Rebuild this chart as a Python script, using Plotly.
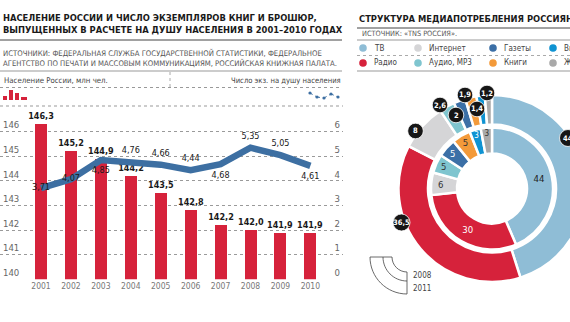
import plotly.graph_objects as go

# ---------------- data ----------------
years = [2001, 2002, 2003, 2004, 2005, 2006, 2007, 2008, 2009, 2010]
population = [146.3, 145.2, 144.9, 144.2, 143.5, 142.8, 142.2, 142.0, 141.9, 141.9]
books_per_capita = [3.71, 4.07, 4.85, 4.76, 4.66, 4.44, 4.68, 5.35, 5.05, 4.61]
book_label_pos = ["middle center", "middle center", "bottom center", "top center", "top center",
                  "top center", "bottom center", "top center", "top center", "bottom center"]

media = ["ТВ", "Радио", "Интернет", "Аудио, MP3", "Газеты", "Книги", "Видео", "Журналы"]
share_2008 = [44, 30, 6, 5, 5, 5, 3, 3]
share_2011 = [44, 36.5, 8, 2.6, 2, 1.9, 1.4, 1.2]
legend_rows = [["ТВ", "Интернет", "Газеты", "Видео"],
               ["Радио", "Аудио, MP3", "Книги", "Журналы"]]

# ---------------- style ----------------
W, H = 600, 322
FONT = "Liberation Sans Narrow, DejaVu Sans Condensed, Arial Narrow, sans-serif"
RED = "#d6223b"
LINE_BLUE = "#3d6fa2"
colors = {"ТВ": "#8fbdd6", "Радио": "#d6223b", "Интернет": "#d5d5d7", "Аудио, MP3": "#7fc5cf",
          "Газеты": "#3b6fa6", "Книги": "#f39a3a", "Видео": "#0f93d2", "Журналы": "#a9a9a9"}
inner_text_col = {"ТВ": "#222", "Радио": "white", "Интернет": "#333", "Аудио, MP3": "#333",
                  "Газеты": "white", "Книги": "#333", "Видео": "white", "Журналы": "#333"}


def fx(x):
    return x / W


def fy(y):
    return 1 - y / H


def P(x, y):
    return f"{fx(x)},{fy(y)}"


def fmt(v, d):
    return f"{v:.{d}f}".replace(".", ",")


fig = go.Figure()

# bars: population
fig.add_trace(go.Bar(
    x=years, y=population, width=0.4, marker=dict(color=RED, line_width=0),
    text=[fmt(v, 1) for v in population], textposition="outside", cliponaxis=False,
    constraintext="none",
    textfont=dict(family=FONT, size=9, color="#1a1a1a", weight="bold"), showlegend=False,
    yaxis="y", xaxis="x"))

# line: books per capita
fig.add_trace(go.Scatter(
    x=years, y=books_per_capita, mode="lines+markers+text", yaxis="y2", xaxis="x",
    line=dict(color=LINE_BLUE, width=6.5, shape="linear"),
    marker=dict(size=9, color="rgba(0,0,0,0)"),
    text=[fmt(v, 2) for v in books_per_capita], textposition=book_label_pos,
    textfont=dict(family=FONT, size=9, color="#1a1a1a"), cliponaxis=False, showlegend=False))

# donut: outer 2011, inner 2008
cx, cy = 492, 188.5
R_out, r_out = 93.5, 64
R_in, r_in = 61, 35
fig.add_trace(go.Pie(
    labels=media, values=share_2011, sort=False, direction="clockwise", rotation=0,
    hole=r_out / R_out, textinfo="none", hoverinfo="skip", showlegend=False,
    marker=dict(colors=[colors[m] for m in media], line=dict(color="white", width=2.5)),
    domain=dict(x=[fx(cx - R_out), fx(cx + R_out)], y=[fy(cy + R_out), fy(cy - R_out)])))
fig.add_trace(go.Pie(
    labels=media, values=share_2008, sort=False, direction="clockwise", rotation=0,
    hole=r_in / R_in, textinfo="text", text=[fmt(v, 0) for v in share_2008],
    textposition="inside", insidetextorientation="horizontal",
    textfont=dict(family=FONT, size=9.5, color=[inner_text_col[m] for m in media]),
    hoverinfo="skip", showlegend=False,
    marker=dict(colors=[colors[m] for m in media], line=dict(color="white", width=2.5)),
    domain=dict(x=[fx(cx - R_in), fx(cx + R_in)], y=[fy(cy + R_in), fy(cy - R_in)])))

shapes = []
ann = []

# ---- left header ----
ann.append(dict(x=fx(1), y=fy(23.5), xanchor="left", yanchor="middle", align="left",
                text="<b>НАСЕЛЕНИЕ РОССИИ И ЧИСЛО ЭКЗЕМПЛЯРОВ КНИГ И БРОШЮР,<br>"
                     "ВЫПУЩЕННЫХ В РАСЧЕТЕ НА ДУШУ НАСЕЛЕНИЯ В 2001–2010 ГОДАХ</b>",
                font=dict(family=FONT, size=9.3, color="#1a1a1a")))
shapes.append(dict(type="line", x0=fx(0), x1=fx(342), y0=fy(40), y1=fy(40),
                   line=dict(color="#444", width=1)))
ann.append(dict(x=fx(1), y=fy(57.5), xanchor="left", yanchor="middle", align="left",
                text="ИСТОЧНИКИ: ФЕДЕРАЛЬНАЯ СЛУЖБА ГОСУДАРСТВЕННОЙ СТАТИСТИКИ, ФЕДЕРАЛЬНОЕ<br>"
                     "АГЕНТСТВО ПО ПЕЧАТИ И МАССОВЫМ КОММУНИКАЦИЯМ, РОССИЙСКАЯ КНИЖНАЯ ПАЛАТА.",
                font=dict(family=FONT, size=7.7, color="#555")))
shapes.append(dict(type="line", x0=fx(0), x1=fx(342), y0=fy(71), y1=fy(71),
                   line=dict(color="#999", width=1)))
ann.append(dict(x=fx(2), y=fy(80), xanchor="left", yanchor="middle",
                text="Население России, млн чел.", font=dict(family=FONT, size=7.8, color="#444")))
ann.append(dict(x=fx(343), y=fy(80), xanchor="right", yanchor="middle",
                text="Число экз. на душу населения", font=dict(family=FONT, size=7.6, color="#444")))
shapes.append(dict(type="line", x0=fx(170), x1=fx(170), y0=fy(72), y1=fy(87),
                   line=dict(color="#aaa", width=1, dash="dot")))
shapes.append(dict(type="line", x0=fx(0), x1=fx(342), y0=fy(87.5), y1=fy(87.5),
                   line=dict(color="#999", width=1, dash="dot")))
shapes.append(dict(type="line", x0=fx(0), x1=fx(343), y0=fy(106), y1=fy(106),
                   line=dict(color="#999", width=1, dash="dot")))
# mini bar icon
for x0, x1, top in [(3, 7, 96), (9, 13, 90), (15, 19, 93), (21, 27, 97)]:
    shapes.append(dict(type="rect", x0=fx(x0), x1=fx(x1), y0=fy(100), y1=fy(top),
                       fillcolor=RED, line_width=0))
# mini line icon
pts = [(310, 93), (317, 97), (324, 98), (331, 94), (338, 97)]
for (xa, ya), (xb, yb) in zip(pts[:-1], pts[1:]):
    shapes.append(dict(type="line", x0=fx(xa), x1=fx(xb), y0=fy(ya), y1=fy(yb),
                       line=dict(color=LINE_BLUE, width=1, dash="dot")))
for xa, ya in pts:
    shapes.append(dict(type="circle", xsizemode="pixel", ysizemode="pixel",
                       xanchor=fx(xa), yanchor=fy(ya), x0=-1.6, x1=1.6, y0=-1.6, y1=1.6,
                       fillcolor=LINE_BLUE, line_width=0))

# ---- right header ----
ann.append(dict(x=fx(357), y=fy(18), xanchor="left", yanchor="middle",
                text="<b>СТРУКТУРА МЕДИАПОТРЕБЛЕНИЯ РОССИЯН</b>",
                font=dict(family=FONT, size=9.3, color="#1a1a1a")))
shapes.append(dict(type="line", x0=fx(357), x1=1, y0=fy(28), y1=fy(28),
                   line=dict(color="#444", width=1)))
ann.append(dict(x=fx(360), y=fy(34), xanchor="left", yanchor="middle",
                text="ИСТОЧНИК: «TNS РОССИЯ».", font=dict(family=FONT, size=7.3, color="#555")))
shapes.append(dict(type="line", x0=fx(357), x1=1, y0=fy(40), y1=fy(40),
                   line=dict(color="#999", width=1)))
shapes.append(dict(type="line", x0=fx(357), x1=1, y0=fy(55.5), y1=fy(55.5),
                   line=dict(color="#aaa", width=1, dash="dot")))
shapes.append(dict(type="line", x0=fx(357), x1=1, y0=fy(71), y1=fy(71),
                   line=dict(color="#999", width=1)))
col_x = [363, 418, 493, 553]
row_y = [48, 63]
for ri, row in enumerate(legend_rows):
    for ci, name in enumerate(row):
        shapes.append(dict(type="circle", xsizemode="pixel", ysizemode="pixel",
                           xanchor=fx(col_x[ci]), yanchor=fy(row_y[ri]),
                           x0=-3.8, x1=3.8, y0=-3.8, y1=3.8,
                           fillcolor=colors[name], line_width=0))
        ann.append(dict(x=fx(col_x[ci] + 9), y=fy(row_y[ri]), xanchor="left", yanchor="middle",
                        text=name, font=dict(family=FONT, size=8, color="#444")))

# ---- donut badges (2011 values) ----
badge_pos = {"ТВ": (568, 138), "Радио": (401.5, 222.5), "Интернет": (415.5, 131),
             "Аудио, MP3": (440, 105), "Газеты": (456, 115), "Книги": (465, 95),
             "Видео": (477, 109), "Журналы": (487, 93)}
for m, v in zip(media, share_2011):
    bx, by = badge_pos[m]
    rad = 8.5 if v >= 10 else 7.8
    shapes.append(dict(type="circle", xsizemode="pixel", ysizemode="pixel",
                       xanchor=fx(bx), yanchor=fy(by), x0=-rad, x1=rad, y0=-rad, y1=rad,
                       fillcolor="#161616", line=dict(color="white", width=0.8), layer="above"))
    ann.append(dict(x=fx(bx), y=fy(by), xanchor="center", yanchor="middle",
                    text=f"<b>{fmt(v, 1) if v % 1 else fmt(v, 0)}</b>",
                    font=dict(family=FONT, size=7.5, color="white")))

# ---- year key: bottom-left quarter of a two-band ring ----
kx, ky = 407, 257          # ring centre (top-right corner of the key)
r1, r2, r3 = 15, 24, 37    # inner, middle, outer radii
k = 0.5523
key_path = (f"M {P(kx - r3, ky)} L {P(kx - r1, ky)} "
            f"C {P(kx - r1, ky + k * r1)} {P(kx - k * r1, ky + r1)} {P(kx, ky + r1)} "
            f"L {P(kx, ky + r3)} "
            f"C {P(kx - k * r3, ky + r3)} {P(kx - r3, ky + k * r3)} {P(kx - r3, ky)} Z")
shapes.append(dict(type="path", path=key_path, line=dict(color="#444", width=0.8),
                   fillcolor="rgba(0,0,0,0)"))
mid_path = (f"M {P(kx - r2, ky)} "
            f"C {P(kx - r2, ky + k * r2)} {P(kx - k * r2, ky + r2)} {P(kx, ky + r2)}")
shapes.append(dict(type="path", path=mid_path, line=dict(color="#444", width=0.8)))
ann.append(dict(x=fx(411), y=fy(275), xanchor="left", yanchor="middle", text="2008",
                font=dict(family=FONT, size=8, color="#444")))
ann.append(dict(x=fx(411), y=fy(288), xanchor="left", yanchor="middle", text="2011",
                font=dict(family=FONT, size=8, color="#444")))

for a in ann:
    a.update(xref="paper", yref="paper", showarrow=False)
for s in shapes:
    s.update(xref="paper", yref="paper")

y_bottom_px, y_top_px, px_per_unit = 279.3, 106, 24.6
span = (y_bottom_px - y_top_px) / px_per_unit
x_left_year = 2001 - 41 / 29.93
x_right_year = 2001 + (343 - 41) / 29.93

fig.update_layout(
    width=W, height=H, margin=dict(l=0, r=0, t=0, b=0),
    paper_bgcolor="white", plot_bgcolor="rgba(0,0,0,0)",
    font=dict(family=FONT, size=10, color="#555"),
    shapes=shapes, annotations=ann, bargap=0,
    xaxis=dict(domain=[0, fx(343)], range=[x_left_year, x_right_year], tickvals=years,
               ticktext=[str(y) for y in years], showgrid=False, zeroline=False, showline=False,
               ticks="", tickfont=dict(family=FONT, size=8.5, color="#777"), fixedrange=True),
    yaxis=dict(domain=[fy(y_bottom_px), fy(y_top_px)], range=[140, 140 + span],
               tickvals=[140, 141, 142, 143, 144, 145, 146], ticklabelposition="inside top",
               showgrid=True, gridcolor="#9a9a9a", griddash="dot", gridwidth=1,
               zeroline=False, showline=False, ticks="",
               tickfont=dict(family=FONT, size=9.5, color="#666")),
    yaxis2=dict(domain=[fy(y_bottom_px), fy(y_top_px)], range=[0, span], overlaying="y",
                side="right", tickvals=[0, 1, 2, 3, 4, 5, 6], ticklabelposition="inside top",
                showgrid=False, zeroline=False, showline=False, ticks="",
                tickfont=dict(family=FONT, size=9.5, color="#666")),
)

fig.write_html("out.html",
               post_script="document.documentElement.style.overflow='hidden';"
                           "document.body.style.overflow='hidden';")
